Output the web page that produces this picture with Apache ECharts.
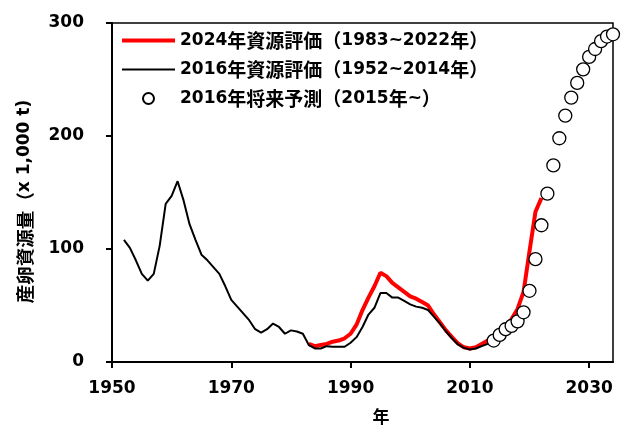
<!DOCTYPE html>
<html>
    <head>
        <meta charset="utf-8">
        <title>産卵資源量</title>
        <script src="https://cdn.jsdelivr.net/npm/echarts@6/dist/echarts.min.js"></script>
        <style>
            html, body { margin: 0; padding: 0; background: #fff; }
            #chart1 { width: 624px; height: 426px; }
        </style>
    </head>
    <body>
        <div id="chart1"></div>
        <script type="text/javascript">
            // 2024年資源評価 1983~2022
            var start2024 = 1983;
            var ssb2024 = [16, 14, 15, 16, 18, 19, 21, 25, 33, 46,
                           57, 67, 79, 76, 70, 66, 62, 58, 56, 53,
                           50, 42, 35, 28, 22, 16.5, 13, 12, 13, 16,
                           19, 23, 27, 32, 38, 47, 62, 98, 133, 145];

            // 2016年資源評価 1952~2014
            var start2016 = 1952;
            var ssb2016 = [108, 101, 90, 78, 72, 78, 103, 140, 147, 160,
                           143, 122, 108, 95, 90, 84, 78, 67, 55, 49,
                           43, 37, 29, 26, 29, 34, 31, 25, 28, 27,
                           25, 15, 12, 12, 14, 13.5, 13.5, 13.5, 17, 22,
                           31, 42, 48, 61, 61, 57, 57, 54, 51, 49,
                           48, 46, 40, 34, 27, 21, 15.5, 12.5, 11, 12,
                           14, 16, 18];

            // 2016年将来予測 2014~2034
            var startProj = 2014;
            var ssbProj = [19, 24, 29, 32, 36, 44, 63, 91, 121, 149,
                           174, 198, 218, 234, 247, 259, 270, 277, 284, 288,
                           290];

            var xTicks = [1950, 1970, 1990, 2010, 2030];
            var yTicks = [0, 100, 200, 300];

            var names = ['2024年資源評価（1983~2022年）', '2016年資源評価（1952~2014年）', '2016年将来予測（2015年~）'];

            function toPairs(start, arr) {
                return arr.map(function (v, i) { return [start + i, v]; });
            }

            // 漢字・全角はすこし大きめに
            function cjk(s) {
                return s.replace(/[\u3000-\u9fff\uff00-\uffef]+/g, function (m) { return '{c|' + m + '}'; });
            }

            var font = "'DejaVu Sans', 'Noto Sans CJK JP', sans-serif";
            var cjkFont = "'Noto Sans CJK JP', sans-serif";

            var myChart = echarts.init(document.getElementById('chart1'));
            var option = {
                animation: false,
                textStyle: { fontFamily: font },
                grid: {
                    left: 112, right: 11, top: 23, bottom: 64,
                    outerBoundsMode: 'none',
                    containLabel: false,
                    show: true, borderColor: '#000', borderWidth: 1.5
                },
                legend: {
                    data: [
                        { name: names[0], icon: 'path://M0,0h53v4h-53z' },
                        { name: names[1], icon: 'path://M0,0h53v2h-53z' },
                        { name: names[2], icon: 'circle' }
                    ],
                    orient: 'vertical',
                    left: 117,
                    top: 26,
                    itemWidth: 53,
                    itemHeight: 11,
                    itemGap: 10,
                    formatter: function (name) { return cjk(name); },
                    textStyle: {
                        fontFamily: font, fontSize: 17, fontWeight: 'bold',
                        color: '#000', lineHeight: 18,
                        rich: {
                            c: { fontFamily: cjkFont, fontSize: 19, fontWeight: 'bold', color: '#000', lineHeight: 18 }
                        }
                    }
                },
                xAxis: {
                    type: 'value',
                    min: 1950, max: 2034, interval: 20,
                    name: '年',
                    nameLocation: 'middle',
                    nameGap: 46,
                    nameTextStyle: {
                        fontFamily: cjkFont, fontSize: 17, fontWeight: 'bold',
                        color: '#000', padding: [0, 0, 0, 37]
                    },
                    axisLine: { lineStyle: { color: '#000', width: 2 } },
                    axisTick: { length: 6, lineStyle: { color: '#000', width: 2 }, customValues: xTicks },
                    axisLabel: {
                        customValues: xTicks,
                        margin: 18,
                        formatter: function (v) { return String(v); },
                        fontFamily: font, fontSize: 17, fontWeight: 'bold', color: '#000'
                    },
                    splitLine: { show: false }
                },
                yAxis: {
                    type: 'value',
                    min: 0, max: 300, interval: 100,
                    name: cjk('産卵資源量（') + 'x 1,000 t)',
                    nameLocation: 'middle',
                    nameGap: 78,
                    nameRotate: 90,
                    nameTextStyle: {
                        fontFamily: font, fontSize: 17, fontWeight: 'bold',
                        color: '#000', padding: [0, 18, 0, 0],
                        rich: {
                            c: { fontFamily: cjkFont, fontSize: 18.5, fontWeight: 'bold', color: '#000' }
                        }
                    },
                    axisLine: { show: true, lineStyle: { color: '#000', width: 2 } },
                    axisTick: { show: true, length: 6, lineStyle: { color: '#000', width: 2 }, customValues: yTicks },
                    axisLabel: {
                        customValues: yTicks,
                        margin: 28,
                        fontFamily: font, fontSize: 17, fontWeight: 'bold', color: '#000'
                    },
                    splitLine: { show: false }
                },
                series: [
                    {
                        name: names[0],
                        type: 'line',
                        data: toPairs(start2024, ssb2024),
                        symbol: 'none',
                        z: 2,
                        lineStyle: { color: '#ff0000', width: 4 },
                        itemStyle: { color: '#ff0000' }
                    },
                    {
                        name: names[1],
                        type: 'line',
                        data: toPairs(start2016, ssb2016),
                        symbol: 'none',
                        z: 3,
                        lineStyle: { color: '#000', width: 2 },
                        itemStyle: { color: '#000' }
                    },
                    {
                        name: names[2],
                        type: 'scatter',
                        data: toPairs(startProj, ssbProj),
                        symbol: 'circle',
                        symbolSize: 13,
                        z: 4,
                        itemStyle: { color: '#fff', borderColor: '#000', borderWidth: 1.3, opacity: 1 }
                    }
                ]
            };
            myChart.setOption(option);
        </script>
    </body>
</html>
